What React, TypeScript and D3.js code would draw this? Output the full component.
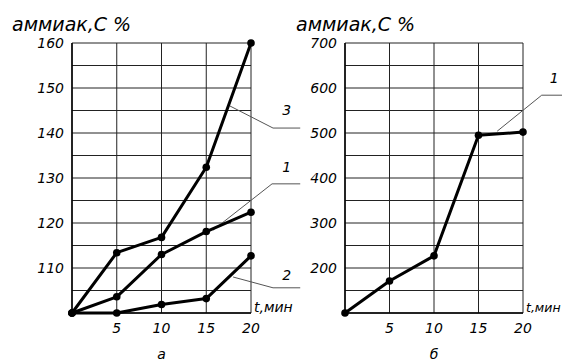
import React from "react";
import * as d3 from "d3";

const times = [0, 5, 10, 15, 20];
const seriesA3 = [100, 113.4, 116.8, 132.4, 160];
const seriesA1 = [100, 103.6, 113.0, 118.1, 122.4];
const seriesA2 = [100, 100, 101.9, 103.2, 112.7];
const seriesB1 = [100, 171, 227, 495, 502];
const yTicksA = [110, 120, 130, 140, 150, 160];
const yTicksB = [200, 300, 400, 500, 600, 700];
const xTicks = [5, 10, 15, 20];
const titleText = "аммиак,С %";
const xAxisLabel = "t,мин";
const panelLabels = ["а", "б"];

// annotation leaders in data coordinates: [start, elbow, end], label at
const leadersA = [
  { name: "3", pts: [[17.65, 146], [22.46, 141.1], [25.5, 141.1]], label: [24.0, 144] },
  { name: "1", pts: [[15.75, 118.4], [22.35, 128.7], [25.5, 128.7]], label: [24.0, 131.3] },
  { name: "2", pts: [[18.0, 108], [22.46, 105.6], [25.5, 105.6]], label: [24.0, 107.4] },
];
const leadersB = [
  { name: "1", pts: [[17.1, 504], [22.1, 584], [25, 584]], label: [23.5, 612] },
];

const font = "'DejaVu Sans', Verdana, sans-serif";

function Panel({ x0, x1, yMin, yMax, yTicks, series, leaders, panel, titleX, axisFont }) {
  const top = 43;
  const bottom = 313;
  const x = d3.scaleLinear().domain([0, 20]).range([x0, x1]);
  const y = d3.scaleLinear().domain([yMin, yMax]).range([bottom, top]);
  const step = (yMax - yMin) / 12;
  const hGrid = d3.range(0, 13).map((i) => yMin + i * step);
  const line = d3
    .line<number>()
    .x((_, i) => x(times[i]))
    .y((d) => y(d));
  const leaderLine = d3
    .line<number[]>()
    .x((d) => x(d[0]))
    .y((d) => y(d[1]));
  return (
    <g>
      <text x={titleX} y={31} fontFamily={font} fontStyle="italic" fontSize={19} fill="#000">
        {titleText}
      </text>
      {hGrid.map((v, i) => (
        <line key={"h" + i} x1={x0} x2={x1} y1={y(v)} y2={y(v)} stroke="#222" strokeWidth={1} />
      ))}
      {times.map((t) => (
        <line key={"v" + t} x1={x(t)} x2={x(t)} y1={top} y2={bottom} stroke="#222" strokeWidth={1} />
      ))}
      <line x1={x0} x2={x0} y1={top} y2={bottom} stroke="#000" strokeWidth={1.5} />
      <line x1={x0} x2={x1} y1={bottom} y2={bottom} stroke="#000" strokeWidth={1.5} />
      {yTicks.map((v) => (
        <text key={"yt" + v} x={x0 - 8} y={y(v) + 5} textAnchor="end" fontFamily={font} fontStyle="italic" fontSize={14} fill="#000">
          {v}
        </text>
      ))}
      {xTicks.map((t) => (
        <text key={"xt" + t} x={x(t)} y={333} textAnchor="middle" fontFamily={font} fontStyle="italic" fontSize={14} fill="#000">
          {t}
        </text>
      ))}
      <text x={x1 + 3} y={312} fontFamily={font} fontStyle="italic" fontSize={axisFont} fill="#000">
        {xAxisLabel}
      </text>
      <text x={x(10)} y={359} textAnchor="middle" fontFamily={font} fontStyle="italic" fontSize={14} fill="#000">
        {panel}
      </text>
      {leaders.map((l) => (
        <g key={"l" + l.name}>
          <path d={leaderLine(l.pts) || ""} fill="none" stroke="#555" strokeWidth={1} />
          <text x={x(l.label[0])} y={y(l.label[1])} textAnchor="middle" fontFamily={font} fontStyle="italic" fontSize={14} fill="#000">
            {l.name}
          </text>
        </g>
      ))}
      {series.map((s, si) => (
        <g key={"s" + si}>
          <path d={line(s) || ""} fill="none" stroke="#000" strokeWidth={3} strokeLinejoin="round" />
          {s.map((v, i) => (
            <circle key={i} cx={x(times[i])} cy={y(v)} r={3.8} fill="#000" />
          ))}
        </g>
      ))}
    </g>
  );
}

export default function App() {
  return (
    <svg
      width={562}
      height={362}
      style={{ position: "absolute", left: 0, top: 0, background: "#fff" }}
    >
      <rect width={562} height={362} fill="#fff" />
      <Panel
        x0={72}
        x1={251}
        yMin={100}
        yMax={160}
        yTicks={yTicksA}
        series={[seriesA3, seriesA1, seriesA2]}
        leaders={leadersA}
        panel={panelLabels[0]}
        titleX={12}
        axisFont={14}
      />
      <Panel
        x0={345}
        x1={523}
        yMin={100}
        yMax={700}
        yTicks={yTicksB}
        series={[seriesB1]}
        leaders={leadersB}
        panel={panelLabels[1]}
        titleX={296}
        axisFont={12.5}
      />
    </svg>
  );
}
